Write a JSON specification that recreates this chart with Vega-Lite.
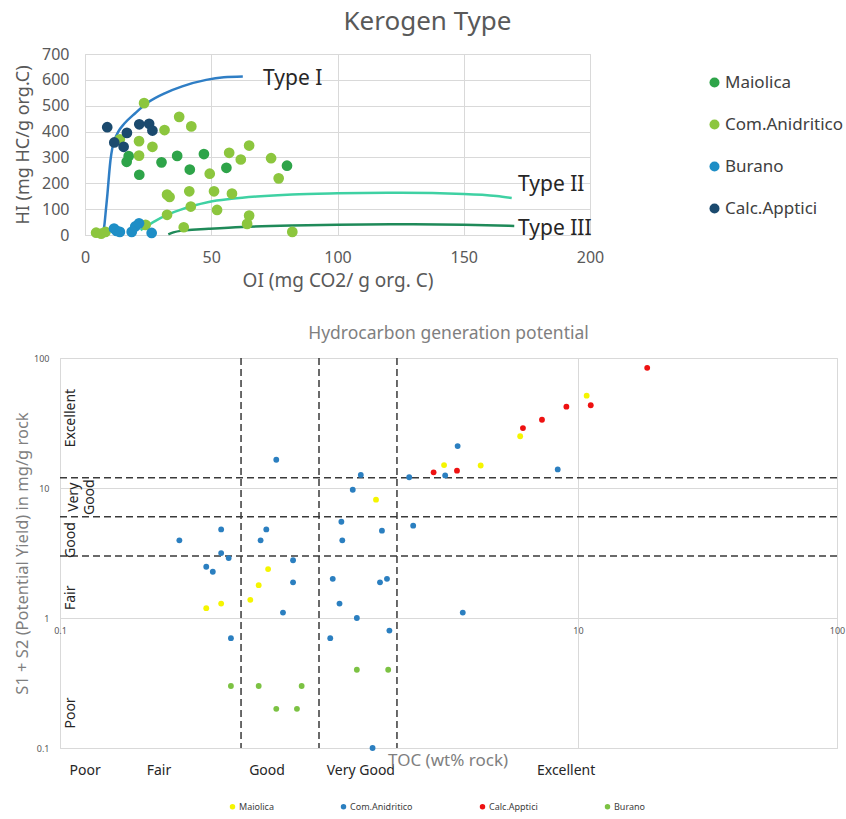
{
  "$schema": "https://vega.github.io/schema/vega-lite/v6.json",
  "background": "white",
  "padding": {"left": 13, "top": 8, "right": 0, "bottom": 0},
  "spacing": 33,
  "config": {
    "font": "Noto Sans",
    "view": {"stroke": "#d9d9d9"},
    "axis": {"gridColor": "#d9d9d9", "ticks": false, "domain": false, "labelColor": "#595959", "titleColor": "#595959", "titleFontWeight": "normal"}
  },
  "resolve": {"scale": {"color": "independent"}, "legend": {"color": "independent"}},
  "datasets": {
    "kero": [
      {"series": "Maiolica", "x": 17.3, "y": 305}, {"series": "Maiolica", "x": 16.5, "y": 283}, {"series": "Maiolica", "x": 21.5, "y": 233},
      {"series": "Maiolica", "x": 30.3, "y": 281}, {"series": "Maiolica", "x": 36.5, "y": 306}, {"series": "Maiolica", "x": 41.5, "y": 253},
      {"series": "Maiolica", "x": 47.1, "y": 313}, {"series": "Maiolica", "x": 56, "y": 260}, {"series": "Maiolica", "x": 80, "y": 268},
      {"series": "Com.Anidritico", "x": 23.4, "y": 510}, {"series": "Com.Anidritico", "x": 37.3, "y": 457}, {"series": "Com.Anidritico", "x": 42.1, "y": 420},
      {"series": "Com.Anidritico", "x": 31.5, "y": 406}, {"series": "Com.Anidritico", "x": 21.4, "y": 363}, {"series": "Com.Anidritico", "x": 26.7, "y": 341},
      {"series": "Com.Anidritico", "x": 21.4, "y": 307}, {"series": "Com.Anidritico", "x": 13.8, "y": 370}, {"series": "Com.Anidritico", "x": 32.5, "y": 156},
      {"series": "Com.Anidritico", "x": 33.5, "y": 147}, {"series": "Com.Anidritico", "x": 41.3, "y": 169}, {"series": "Com.Anidritico", "x": 41.9, "y": 110},
      {"series": "Com.Anidritico", "x": 32.5, "y": 78}, {"series": "Com.Anidritico", "x": 39.1, "y": 30}, {"series": "Com.Anidritico", "x": 24, "y": 39},
      {"series": "Com.Anidritico", "x": 4.4, "y": 9}, {"series": "Com.Anidritico", "x": 6.4, "y": 5}, {"series": "Com.Anidritico", "x": 8.1, "y": 12},
      {"series": "Com.Anidritico", "x": 57.1, "y": 318}, {"series": "Com.Anidritico", "x": 65, "y": 346}, {"series": "Com.Anidritico", "x": 61.7, "y": 292},
      {"series": "Com.Anidritico", "x": 73.7, "y": 297}, {"series": "Com.Anidritico", "x": 76.7, "y": 219}, {"series": "Com.Anidritico", "x": 49.4, "y": 237},
      {"series": "Com.Anidritico", "x": 51.1, "y": 169}, {"series": "Com.Anidritico", "x": 58.2, "y": 160}, {"series": "Com.Anidritico", "x": 52.3, "y": 97},
      {"series": "Com.Anidritico", "x": 65, "y": 75}, {"series": "Com.Anidritico", "x": 64.2, "y": 43}, {"series": "Com.Anidritico", "x": 82.1, "y": 12},
      {"series": "Burano", "x": 11.5, "y": 25}, {"series": "Burano", "x": 12.5, "y": 16}, {"series": "Burano", "x": 13.8, "y": 12},
      {"series": "Burano", "x": 18.5, "y": 12}, {"series": "Burano", "x": 19.9, "y": 33}, {"series": "Burano", "x": 21.4, "y": 45},
      {"series": "Burano", "x": 26.4, "y": 8},
      {"series": "Calc.Apptici", "x": 8.8, "y": 417}, {"series": "Calc.Apptici", "x": 11.6, "y": 358}, {"series": "Calc.Apptici", "x": 15.3, "y": 341},
      {"series": "Calc.Apptici", "x": 16.6, "y": 395}, {"series": "Calc.Apptici", "x": 21.5, "y": 428}, {"series": "Calc.Apptici", "x": 25.4, "y": 430},
      {"series": "Calc.Apptici", "x": 26.7, "y": 404}
    ],
    "curves": [
      {"type": "Type I", "x": 7.1, "y": 0}, {"type": "Type I", "x": 7.7, "y": 40}, {"type": "Type I", "x": 8.3, "y": 100},
      {"type": "Type I", "x": 8.9, "y": 160}, {"type": "Type I", "x": 9.5, "y": 230}, {"type": "Type I", "x": 10.1, "y": 290},
      {"type": "Type I", "x": 10.8, "y": 335}, {"type": "Type I", "x": 11.8, "y": 370}, {"type": "Type I", "x": 13.2, "y": 400},
      {"type": "Type I", "x": 15.5, "y": 430}, {"type": "Type I", "x": 20, "y": 472}, {"type": "Type I", "x": 25, "y": 513},
      {"type": "Type I", "x": 32, "y": 550}, {"type": "Type I", "x": 38.5, "y": 575}, {"type": "Type I", "x": 48, "y": 600},
      {"type": "Type I", "x": 55, "y": 610}, {"type": "Type I", "x": 62.5, "y": 613},
      {"type": "Type II", "x": 22, "y": 19}, {"type": "Type II", "x": 27, "y": 50}, {"type": "Type II", "x": 32.5, "y": 78},
      {"type": "Type II", "x": 38, "y": 98}, {"type": "Type II", "x": 42.4, "y": 112}, {"type": "Type II", "x": 49, "y": 128},
      {"type": "Type II", "x": 58, "y": 140}, {"type": "Type II", "x": 68, "y": 149}, {"type": "Type II", "x": 82, "y": 157},
      {"type": "Type II", "x": 100, "y": 161}, {"type": "Type II", "x": 125, "y": 163}, {"type": "Type II", "x": 150, "y": 159},
      {"type": "Type II", "x": 163, "y": 151}, {"type": "Type II", "x": 169, "y": 143},
      {"type": "Type III", "x": 33, "y": 2}, {"type": "Type III", "x": 35, "y": 10}, {"type": "Type III", "x": 38.4, "y": 17},
      {"type": "Type III", "x": 42.4, "y": 20}, {"type": "Type III", "x": 49, "y": 24}, {"type": "Type III", "x": 62, "y": 31},
      {"type": "Type III", "x": 82, "y": 37}, {"type": "Type III", "x": 100, "y": 40}, {"type": "Type III", "x": 125, "y": 42},
      {"type": "Type III", "x": 150, "y": 40}, {"type": "Type III", "x": 170, "y": 35}
    ],
    "typelabels": [
      {"t": "Type I", "x": 70.5, "y": 604},
      {"t": "Type II", "x": 171.5, "y": 192},
      {"t": "Type III", "x": 171.5, "y": 25}
    ],
    "hc": [
      {"formation": "Maiolica", "x": 0.367, "y": 1.19}, {"formation": "Maiolica", "x": 0.419, "y": 1.29}, {"formation": "Maiolica", "x": 0.543, "y": 1.38},
      {"formation": "Maiolica", "x": 0.585, "y": 1.79}, {"formation": "Maiolica", "x": 0.636, "y": 2.38}, {"formation": "Maiolica", "x": 1.66, "y": 8.13},
      {"formation": "Maiolica", "x": 3.04, "y": 15.0}, {"formation": "Maiolica", "x": 4.21, "y": 14.9}, {"formation": "Maiolica", "x": 5.98, "y": 25.0},
      {"formation": "Maiolica", "x": 10.8, "y": 51.3},
      {"formation": "Com.Anidritico", "x": 0.684, "y": 16.5}, {"formation": "Com.Anidritico", "x": 1.45, "y": 12.6}, {"formation": "Com.Anidritico", "x": 1.35, "y": 9.7},
      {"formation": "Com.Anidritico", "x": 2.23, "y": 12.1}, {"formation": "Com.Anidritico", "x": 0.419, "y": 4.8}, {"formation": "Com.Anidritico", "x": 0.626, "y": 4.8},
      {"formation": "Com.Anidritico", "x": 0.595, "y": 3.96}, {"formation": "Com.Anidritico", "x": 0.289, "y": 3.96}, {"formation": "Com.Anidritico", "x": 0.419, "y": 3.16},
      {"formation": "Com.Anidritico", "x": 0.448, "y": 2.89}, {"formation": "Com.Anidritico", "x": 0.367, "y": 2.48}, {"formation": "Com.Anidritico", "x": 0.389, "y": 2.27},
      {"formation": "Com.Anidritico", "x": 0.794, "y": 2.78}, {"formation": "Com.Anidritico", "x": 0.794, "y": 1.88}, {"formation": "Com.Anidritico", "x": 0.726, "y": 1.10},
      {"formation": "Com.Anidritico", "x": 0.457, "y": 0.70}, {"formation": "Com.Anidritico", "x": 1.22, "y": 5.5}, {"formation": "Com.Anidritico", "x": 1.23, "y": 3.96},
      {"formation": "Com.Anidritico", "x": 1.75, "y": 4.7}, {"formation": "Com.Anidritico", "x": 1.13, "y": 2.0}, {"formation": "Com.Anidritico", "x": 1.72, "y": 1.88},
      {"formation": "Com.Anidritico", "x": 1.83, "y": 2.0}, {"formation": "Com.Anidritico", "x": 1.20, "y": 1.29}, {"formation": "Com.Anidritico", "x": 1.40, "y": 1.0},
      {"formation": "Com.Anidritico", "x": 1.87, "y": 0.80}, {"formation": "Com.Anidritico", "x": 1.105, "y": 0.70}, {"formation": "Com.Anidritico", "x": 1.61, "y": 0.1},
      {"formation": "Com.Anidritico", "x": 3.07, "y": 12.5}, {"formation": "Com.Anidritico", "x": 3.43, "y": 21.0}, {"formation": "Com.Anidritico", "x": 8.35, "y": 13.9},
      {"formation": "Com.Anidritico", "x": 2.31, "y": 5.13}, {"formation": "Com.Anidritico", "x": 3.59, "y": 1.10},
      {"formation": "Calc.Apptici", "x": 2.77, "y": 13.2}, {"formation": "Calc.Apptici", "x": 3.41, "y": 13.6}, {"formation": "Calc.Apptici", "x": 6.13, "y": 28.9},
      {"formation": "Calc.Apptici", "x": 7.26, "y": 33.5}, {"formation": "Calc.Apptici", "x": 9.02, "y": 42.2}, {"formation": "Calc.Apptici", "x": 11.2, "y": 43.3},
      {"formation": "Calc.Apptici", "x": 18.5, "y": 84},
      {"formation": "Burano", "x": 0.457, "y": 0.30}, {"formation": "Burano", "x": 0.585, "y": 0.30}, {"formation": "Burano", "x": 0.857, "y": 0.30},
      {"formation": "Burano", "x": 0.684, "y": 0.20}, {"formation": "Burano", "x": 0.822, "y": 0.20}, {"formation": "Burano", "x": 1.40, "y": 0.40},
      {"formation": "Burano", "x": 1.85, "y": 0.40}
    ],
    "vlines": [{"x": 0.5}, {"x": 1}, {"x": 2}],
    "hlines": [{"y": 3}, {"y": 6}, {"y": 12}],
    "ylabels": [
      {"t": "Excellent", "x": 0.11, "y": 34.5},
      {"t": "Very|Good", "x": 0.113, "y": 8.5},
      {"t": "Good", "x": 0.11, "y": 3.98},
      {"t": "Fair", "x": 0.11, "y": 1.43},
      {"t": "Poor", "x": 0.11, "y": 0.186}
    ],
    "xlabels": [
      {"t": "Poor", "x": 0.125, "y": 0.0665},
      {"t": "Fair", "x": 0.241, "y": 0.0665},
      {"t": "Good", "x": 0.63, "y": 0.0665},
      {"t": "Very Good", "x": 1.45, "y": 0.0665},
      {"t": "Excellent", "x": 9.0, "y": 0.0665}
    ],
    "toctitle": [{"t": "TOC (wt% rock)", "x": 3.15, "y": 0.0794}]
  },
  "vconcat": [
    {
      "spacing": -48,
      "hconcat": [
        {
          "width": 1,
          "height": 1,
          "view": {"stroke": null},
          "data": {"values": []},
          "mark": {"type": "point", "opacity": 0}
        },
        {
          "width": 505,
          "height": 181,
          "title": {"text": "Kerogen Type", "fontSize": 26, "fontWeight": "normal", "color": "#595959", "frame": "group", "anchor": "middle", "offset": 11, "dx": 90},
          "encoding": {
            "x": {"field": "x", "type": "quantitative", "scale": {"domain": [0, 200], "nice": false},
              "axis": {"values": [0, 50, 100, 150, 200], "title": "OI (mg CO2/ g org. C)", "labelFontSize": 16, "titleFontSize": 19, "labelPadding": 14, "titlePadding": 6, "labelFlush": false, "domain": true, "domainColor": "#d9d9d9"}},
            "y": {"field": "y", "type": "quantitative", "scale": {"domain": [0, 700], "nice": false},
              "axis": {"values": [0, 100, 200, 300, 400, 500, 600, 700], "title": "HI (mg HC/g org.C)", "labelFontSize": 16, "titleFontSize": 18, "labelPadding": 16, "titleX": -62, "titleBaseline": "middle"}}
          },
          "layer": [
            {
              "data": {"name": "curves"},
              "mark": {"type": "line", "interpolate": "monotone", "strokeWidth": 2.5},
              "encoding": {
                "detail": {"field": "type"},
                "stroke": {"field": "type", "type": "nominal", "scale": {"domain": ["Type I", "Type II", "Type III"], "range": ["#2f7ec5", "#3fd1a3", "#1f8a59"]}, "legend": null}
              }
            },
            {
              "data": {"name": "kero"},
              "mark": {"type": "circle", "size": 115, "opacity": 1},
              "encoding": {
                "color": {"field": "series", "type": "nominal",
                  "scale": {"domain": ["Maiolica", "Com.Anidritico", "Burano", "Calc.Apptici"], "range": ["#2ea449", "#8cc63e", "#1e8ec6", "#1b4a6e"]},
                  "legend": {"title": null, "orient": "none", "legendX": 646, "legendY": 20, "labelFontSize": 17, "labelColor": "#404040", "symbolSize": 100, "symbolType": "circle", "rowPadding": 24, "labelOffset": 2, "padding": 0}}
              }
            },
            {
              "data": {"name": "typelabels"},
              "mark": {"type": "text", "align": "left", "baseline": "middle", "fontSize": 21, "color": "#262626"},
              "encoding": {"text": {"field": "t"}}
            }
          ]
        }
      ]
    },
    {
      "width": 777,
      "height": 390,
      "title": {"text": "Hydrocarbon generation potential", "fontSize": 17.5, "fontWeight": "normal", "color": "#7f7f7f", "anchor": "middle", "frame": "group", "offset": 12},
      "encoding": {
        "x": {"field": "x", "type": "quantitative", "scale": {"type": "log", "domain": [0.1, 100], "nice": false},
          "axis": {"values": [0.1, 10, 100], "format": "~g", "labelFontSize": 9, "labelPadding": 8, "labelFlush": false, "offset": -130, "title": null}},
        "y": {"field": "y", "type": "quantitative", "scale": {"type": "log", "domain": [0.1, 100], "nice": false},
          "axis": {"values": [0.1, 1, 10, 100], "format": "~g", "labelFontSize": 9, "labelPadding": 11, "title": "S1 + S2 (Potential Yield) in mg/g rock", "titleFontSize": 16.5, "titleColor": "#7f7f7f", "titleX": -38, "titleBaseline": "middle"}}
      },
      "layer": [
        {
          "data": {"name": "vlines"},
          "mark": {"type": "rule", "strokeDash": [7, 4], "color": "#3a3a3a", "strokeWidth": 1.5},
          "encoding": {"y": null}
        },
        {
          "data": {"name": "hlines"},
          "mark": {"type": "rule", "strokeDash": [7, 4], "color": "#3a3a3a", "strokeWidth": 1.5},
          "encoding": {"x": null}
        },
        {
          "data": {"name": "hc"},
          "mark": {"type": "circle", "size": 34, "opacity": 1},
          "encoding": {
            "color": {"field": "formation", "type": "nominal",
              "scale": {"domain": ["Maiolica", "Com.Anidritico", "Calc.Apptici", "Burano"], "range": ["#f5f500", "#2b7fc0", "#ee1111", "#7cc243"]},
              "legend": {"title": null, "orient": "none", "direction": "horizontal", "legendX": 168, "legendY": 444, "labelFontSize": 9, "labelColor": "#404040", "symbolSize": 30, "symbolType": "circle", "columnPadding": 65, "labelOffset": 2, "padding": 0}}
          }
        },
        {
          "data": {"name": "ylabels"},
          "mark": {"type": "text", "angle": 270, "align": "center", "baseline": "middle", "fontSize": 14, "color": "#262626", "lineBreak": "|", "lineHeight": 16},
          "encoding": {"text": {"field": "t"}}
        },
        {
          "data": {"name": "xlabels"},
          "mark": {"type": "text", "align": "center", "baseline": "middle", "fontSize": 14, "color": "#262626"},
          "encoding": {"text": {"field": "t"}}
        },
        {
          "data": {"name": "toctitle"},
          "mark": {"type": "text", "align": "center", "baseline": "middle", "fontSize": 17, "color": "#7f7f7f"},
          "encoding": {"text": {"field": "t"}}
        }
      ]
    }
  ]
}
